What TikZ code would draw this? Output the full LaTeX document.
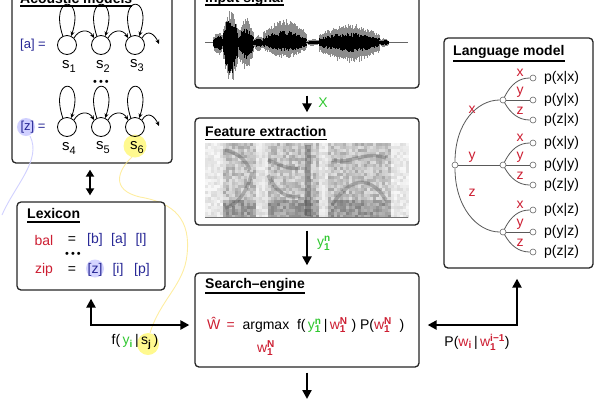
\documentclass[tikz,border=0pt]{standalone}
\usepackage{fontspec}
\setmainfont{Liberation Sans}
\usetikzlibrary{arrows.meta,calc}
\definecolor{navy}{RGB}{40,40,150}
\definecolor{wred}{RGB}{205,30,50}
\definecolor{wgreen}{RGB}{50,200,50}
\newcommand\mySS[2]{\ensuremath{^{\mbox{\fontsize{10}{10}\selectfont\bfseries #1}}_{\mbox{\fontsize{10}{10}\selectfont\bfseries #2}}}}
\newcommand\mySB[1]{\ensuremath{_{\mbox{\fontsize{10}{10}\selectfont\bfseries #1}}}}
\newcommand\stl[1]{s\raisebox{-0.5ex}{\fontsize{11}{11}\selectfont #1}}
\begin{document}
\begin{tikzpicture}[x=1pt,y=-1pt,font=\fontsize{14}{16}\selectfont,
  box/.style={draw=black!85, line width=1.3pt, rounded corners=4pt, fill=white, inner sep=0pt},
  ttl/.style={font=\fontsize{14}{16}\selectfont\bfseries, anchor=base west, inner sep=0pt},
  uline/.style={line width=1.2pt},
  bigarr/.style={line width=2.5pt, -{Triangle[length=9pt,width=9pt]}},
  bothbig/.style={line width=2.5pt, {Triangle[length=9pt,width=9pt]}-{Triangle[length=9pt,width=9pt]}},
  dblarr/.style={line width=2.5pt, {Triangle[length=7pt,width=8pt]}-{Triangle[length=7pt,width=8pt]}},
  thinarr/.style={line width=0.8pt, -{Stealth[length=4.5pt,width=4pt]}},
  st/.style={draw, circle, minimum size=19pt, inner sep=0pt, line width=0.8pt},
  leaf/.style={draw=black!60, fill=white, circle, minimum size=6pt, inner sep=0pt, line width=0.6pt},
  edge/.style={draw=black!65, line width=0.8pt},
  lab/.style={inner sep=0pt}]
\useasboundingbox (0,0) rectangle (600,400);

% ---------------- Acoustic models
\node[box, minimum width=160pt, minimum height=175pt] (ac) at (92,75.5) {};
\node[ttl] (acT) at (20,3) {Acoustic models};
\draw[uline] ($(acT.base west)+(0,3)$) -- ($(acT.base east)+(0,3)$);
\fill[blue!30, opacity=.6] (26,127) circle (9);
\fill[yellow!55, opacity=.8] (135,146) circle (11.5);
\foreach \n/\xp/\yp in {1/67/45, 2/101/45, 3/135/45, 4/67/127, 5/101/127, 6/135/127} {
  \node[st] (s\n) at (\xp,\yp) {};
  \node[lab, font=\fontsize{15}{16}\selectfont] (sl\n) at (\xp+2,\yp+21) {\stl{\n}};
  \draw[thinarr] (s\n.115) .. controls +(-14,-42) and +(14,-42) .. (s\n.65);
}
\foreach \a/\b in {1/2,2/3,4/5,5/6} {
  \draw[thinarr] (s\a.45) .. controls +(5,-9) and +(-5,-9) .. (s\b.135);
}
\coordinate (ao1) at (159,44);
\coordinate (ao2) at (159,126);
\draw[thinarr] (s3.45) .. controls +(6,-10) and +(-4,-9) .. (ao1);
\draw[thinarr] (s6.45) .. controls +(6,-10) and +(-4,-9) .. (ao2);
\node[lab, navy, font=\fontsize{13}{15}\selectfont] (aeq) at (33,45) {[a] =};
\node[lab, navy, font=\fontsize{13}{15}\selectfont] (zeq) at (33,127) {[z] =};
\node[lab, font=\fontsize{11}{12}\selectfont] (adots) at (101,83) {•\hspace{2pt}•\hspace{2pt}•};

% faint highlight curves
\draw[yellow!70!orange!45, line width=.9pt, opacity=.8] (132,157) .. controls (118,170) and (110,190) .. (140,197) .. controls (175,203) and (191,220) .. (187,255) .. controls (184,285) and (160,300) .. (150,333);
\draw[blue!18, line width=.9pt] (30,136) .. controls (42,160) and (15,185) .. (2,215);

% ---------------- Lexicon
\node[box, minimum width=148pt, minimum height=88pt] (lex) at (91,246) {};
\node[ttl] (lexT) at (27,218) {Lexicon};
\draw[uline] ($(lexT.base west)+(0,4)$) -- ($(lexT.base east)+(0,4)$);
\fill[blue!30, opacity=.55] (95,268.5) circle (9);
\node[lab, wred] (bal) at (44,240) {bal};
\node[lab] (eq1) at (72,240) {=};
\node[lab, navy] (b1) at (95,240) {[b]};
\node[lab, navy] (a1) at (119,240) {[a]};
\node[lab, navy] (l1) at (141,240) {[l]};
\node[lab, font=\fontsize{11}{12}\selectfont] (ldots) at (73,255) {•\hspace{2pt}•\hspace{2pt}•};
\node[lab, wred] (zip) at (44,270) {zip};
\node[lab] (eq2) at (72,270) {=};
\node[lab, navy] (z2) at (95,270) {[z]};
\node[lab, navy] (i2) at (118,270) {[i]};
\node[lab, navy] (p2) at (142,270) {[p]};

\draw[dblarr] ($(ac.south)+(-2,6)$) -- ($(lex.north)+(-1,-6)$);

% ---------------- Input signal
\node[box, minimum width=224pt, minimum height=100pt] (inp) at (307,38) {};
\node[ttl] (inT) at (205,2) {Input signal};
\draw[uline] ($(inT.base west)+(0,3)$) -- ($(inT.base east)+(0,3)$);
\draw[black!60, line width=.8pt] (205,42.5) -- (408,42.5);
\pgfmathsetseed{7}
\foreach \xa/\xb/\gu/\gd/\du/\dd in {213/223/12/14/7/9, 223/238/33/40/27/32, 238/253/26/30/15/17, 253/263/8/9/5/5, 263/306/24/16/12/9, 306/319/4/4/2/2, 319/379/19/21/10/10, 379/388/5/5/3/3} {
  \foreach \xw in {\xa,...,\xb} {
    \pgfmathsetmacro\en{0.45+0.55*sin(180*(\xw-\xa)/(\xb-\xa))}
    \pgfmathsetmacro\ga{\gu*\en*(0.7+0.3*rnd)}
    \pgfmathsetmacro\gb{\gd*\en*(0.7+0.3*rnd)}
    \pgfmathsetmacro\da{\du*\en*(0.6+0.4*rnd)}
    \pgfmathsetmacro\db{\dd*\en*(0.6+0.4*rnd)}
    \draw[black!45, line width=1pt] (\xw,42.5-\ga) -- (\xw,42.5+\gb);
    \draw[black, line width=1pt] (\xw,42.5-\da) -- (\xw,42.5+\db);
  }
}

% ---------------- Feature extraction
\node[box, minimum width=224pt, minimum height=107pt] (fe) at (307,171.5) {};
\node[ttl] (feT) at (205,136) {Feature extraction};
\draw[uline] ($(feT.base west)+(0,3.5)$) -- ($(feT.base east)+(0,3.5)$);
\pgfmathsetseed{11}
\foreach \i in {0,...,67} {
  \foreach \j in {0,...,24} {
    \pgfmathsetmacro\xx{205+3*\i}
    \pgfmathsetmacro\yy{143+3*\j}
    \pgfmathsetmacro\sp{and(\xx>221,\xx<390)}
    \pgfmathsetmacro\wh{or(and(\xx>253,\xx<266),and(\xx>317,\xx<326))}
    \pgfmathtruncatemacro\lev{(1-\sp)*(3+12*rnd)+\sp*(1-\wh)*(12+24*rnd+15*(\yy>198))+\sp*\wh*(5+12*rnd)}
    \fill[black!\lev] (\xx,\yy) rectangle +(3.3,3.3);
  }
}
\draw[black!75, line width=3.5pt, opacity=.3] (225,150) .. controls (235,152) and (245,158) .. (250,170);
\draw[black!75, line width=3.5pt, opacity=.3] (225,208) .. controls (238,205) and (248,190) .. (252,172);
\draw[black!75, line width=3.5pt, opacity=.3] (268,175) .. controls (276,192) and (288,200) .. (300,196);
\draw[black!75, line width=3.5pt, opacity=.3] (268,160) .. controls (280,165) and (290,170) .. (300,168);
\draw[black!80, line width=6pt, opacity=.35] (308,145) -- (308,216);
\draw[black!75, line width=3.5pt, opacity=.3] (332,205) .. controls (348,180) and (368,172) .. (386,200);
\draw[black!75, line width=3.5pt, opacity=.3] (332,160) .. controls (350,165) and (365,150) .. (386,158);
\draw[black!55, line width=.8pt] (205,217) -- (408,217);

% ---------------- Search engine
\node[box, minimum width=224pt, minimum height=94pt] (se) at (307,320) {};
\node[ttl] (seT) at (205,288) {Search–engine};
\draw[uline] ($(seT.base west)+(0,5)$) -- ($(seT.base east)+(0,5)$);
\node[lab, anchor=west] (form) at (207,325) {{\color{wred}Ŵ\, =}\ \ argmax\ \ f(\,{\color{wgreen}y\mySS{n}{1}}\,|\,{\color{wred}w\mySS{N}{1}}\ )\ P({\color{wred}w\mySS{N}{1}}\ \ )};
\node[lab, wred] (wn) at (266,348) {w\mySS{N}{1}};

% ---------------- Language model
\node[box, minimum width=149pt, minimum height=230pt] (lm) at (518.5,153) {};
\node[ttl] (lmT) at (453,55) {Language model};
\draw[uline] ($(lmT.base west)+(0,6)$) -- ($(lmT.base east)+(0,6)$);
\node[leaf] (R) at (455,165) {};
\foreach \m/\my/\pc in {1/100/x,2/165/y,3/232/z} {
  \node[leaf] (M\m) at (503,\my) {};
  \foreach \k/\dy/\ch in {1/-22/x,2/0/y,3/20/z} {
    \node[leaf] (L\m\k) at (533,\my+\dy) {};
    \node[lab, anchor=west] (P\m\k) at (544,\my+\dy) {p(\ch|\pc)};
  }
  \draw[edge] (M\m) .. controls +(8,-16) and +(-14,0) .. (L\m1);
  \draw[edge] (M\m) -- (L\m2);
  \draw[edge] (M\m) .. controls +(8,14) and +(-14,0) .. (L\m3);
  \node[lab, wred] (ex\m) at (520,\my-27) {x};
  \node[lab, wred] (ey\m) at (520,\my-8) {y};
  \node[lab, wred] (ez\m) at (520,\my+11) {z};
}
\draw[edge] (R) .. controls +(0,-42) and +(-26,0) .. (M1);
\draw[edge] (R) -- (M2);
\draw[edge] (R) .. controls +(0,42) and +(-26,0) .. (M3);
\node[lab, wred] (rx) at (472,110) {x};
\node[lab, wred] (ry) at (472,157) {y};
\node[lab, wred] (rz) at (472,193) {z};

% ---------------- connectors
\draw[bigarr] ($(inp.south)+(0,7)$) -- ($(fe.north)+(0,-5)$);
\node[lab, wgreen] (xl) at (323,103) {X};
\draw[bigarr] ($(fe.south)+(0,5)$) -- ($(se.north)+(0,-7)$);
\node[lab, wgreen] (yl) at (324,243) {y\mySS{n}{1}};
\coordinate (outc) at (307,399);
\draw[bigarr] ($(se.south)+(0,5)$) -- (outc);

\draw[bothbig] ($(lex.south)+(0,8)$) |- ($(se.west)+(-5,5)$);
\fill[yellow!55, opacity=.8] (148,344) circle (11);
\node[lab] (fl) at (135,342) {f(\,{\color{wgreen}y\mySB{i}}\,|\,s\mySB{j}\,)};

\draw[bothbig] ($(lm.south)+(-1.5,10)$) |- ($(se.east)+(8,5)$);
\node[lab] (pl) at (477,342) {P({\color{wred}w\mySB{i}}\,|\,{\color{wred}w\mySS{i−1}{1}})};
\end{tikzpicture}
\end{document}
